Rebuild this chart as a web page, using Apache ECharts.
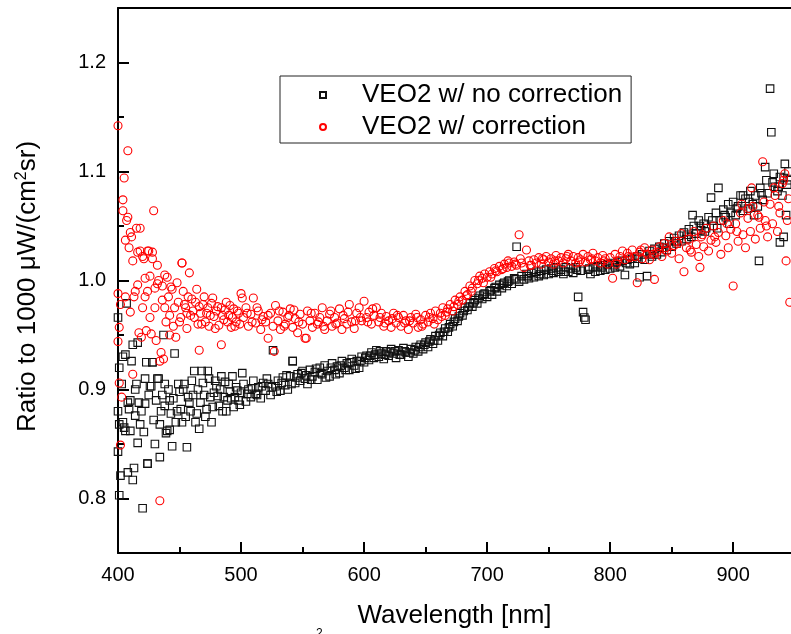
<!DOCTYPE html>
<html>
<head>
<meta charset="utf-8">
<script src="https://cdn.jsdelivr.net/npm/echarts@6/dist/echarts.min.js"></script>
<style>
html,body{margin:0;padding:0;background:#fff;}
#chart{width:791px;height:634px;}
</style>
</head>
<body>
<div id="chart"></div>
<script>
// Shared wavelength grid [nm]
const wavelengths = [
400,402,404,406,408,410,412,414,416,418,
420,422,424,426,428,430,432,434,436,438,
440,442,444,446,448,450,452,454,456,458,
460,462,464,466,468,470,472,474,476,478,
480,482,484,486,488,490,492,494,496,498,
500,502,504,506,508,510,512,514,516,518,
520,522,524,526,528,530,532,534,536,538,
540,542,544,546,548,550,552,554,556,558,
560,562,564,566,568,570,572,574,576,578,
580,582,584,586,588,590,592,594,596,598,
600,602,604,606,608,610,612,614,616,618,
620,622,624,626,628,630,632,634,636,638,
640,642,644,646,648,650,652,654,656,658,
660,662,664,666,668,670,672,674,676,678,
680,682,684,686,688,690,692,694,696,698,
700,702,704,706,708,710,712,714,716,718,
720,722,724,726,728,730,732,734,736,738,
740,742,744,746,748,750,752,754,756,758,
760,762,764,766,768,770,772,774,776,778,
780,782,784,786,788,790,792,794,796,798,
800,802,804,806,808,810,812,814,816,818,
820,822,824,826,828,830,832,834,836,838,
840,842,844,846,848,850,852,854,856,858,
860,862,864,866,868,870,872,874,876,878,
880,882,884,886,888,890,892,894,896,898,
900,902,904,906,908,910,912,914,916,918,
920,922,924,926,928,930,932,934,936,938,
940,942,944,946
];

// VEO2 w/ no correction (ratio), on the wavelength grid
const noCorrection = [
0.966,0.821,0.870,0.932,0.888,0.862,0.941,0.876,0.943,0.868,
0.791,0.910,0.832,0.903,0.925,0.850,0.910,0.838,0.895,0.905,
0.862,0.890,0.848,0.933,0.880,0.898,0.870,0.905,0.847,0.888,
0.908,0.917,0.878,0.864,0.917,0.895,0.882,0.910,0.870,0.897,
0.903,0.885,0.912,0.893,0.880,0.905,0.892,0.884,0.902,0.890,
0.897,0.905,0.889,0.900,0.893,0.908,0.896,0.902,0.892,0.906,
0.899,0.905,0.895,0.936,0.903,0.908,0.899,0.911,0.904,0.900,
0.912,0.926,0.906,0.914,0.908,0.917,0.910,0.905,0.918,0.912,
0.916,0.909,0.920,0.914,0.922,0.917,0.912,0.924,0.918,0.921,
0.915,0.926,0.920,0.924,0.918,0.928,0.922,0.926,0.920,0.930,
0.925,0.931,0.927,0.934,0.929,0.936,0.930,0.933,0.928,0.935,
0.931,0.937,0.933,0.929,0.936,0.932,0.938,0.934,0.930,0.937,
0.933,0.939,0.935,0.941,0.937,0.943,0.939,0.946,0.942,0.949,
0.945,0.952,0.949,0.956,0.953,0.960,0.958,0.965,0.963,0.970,
0.968,0.975,0.973,0.979,0.976,0.982,0.979,0.986,0.983,0.988,
0.985,0.990,0.987,0.993,0.990,0.996,0.993,0.998,0.995,1.000,
0.997,1.002,1.031,0.999,1.004,1.001,1.006,1.002,1.007,1.003,
1.008,1.004,1.009,1.005,1.010,1.006,1.011,1.007,1.012,1.008,
1.010,1.006,1.012,1.008,1.011,1.007,1.012,0.985,1.009,0.971,
0.964,1.010,1.006,1.012,1.008,1.013,1.009,1.014,1.010,1.015,
1.011,1.016,1.012,1.017,1.013,1.018,1.005,1.019,1.015,1.020,
1.016,1.022,1.003,1.024,1.019,1.004,1.027,1.022,1.029,1.024,
1.031,1.026,1.034,1.028,1.036,1.031,1.039,1.034,1.041,1.036,
1.044,1.038,1.047,1.040,1.050,1.043,1.055,1.046,1.052,1.048,
1.058,1.076,1.050,1.062,1.085,1.055,1.065,1.058,1.070,1.062,
1.072,1.060,1.068,1.078,1.064,1.075,1.066,1.082,1.070,1.078,
1.068,1.085,1.074,1.104,1.080,1.176,1.090,1.086,1.082,1.095,
1.078,1.107,1.088,1.092
];

// VEO2 w/ correction (ratio), on the wavelength grid
const withCorrection = [
1.142,0.978,1.064,1.037,1.119,1.044,1.018,0.990,1.026,1.048,
1.022,0.985,1.027,1.004,1.020,0.993,1.014,0.926,0.982,0.975,
1.003,0.968,0.992,0.975,0.998,0.962,1.016,0.978,0.970,1.007,
0.983,0.966,0.992,0.976,0.960,0.985,0.970,0.958,0.979,0.967,
0.972,0.959,0.975,0.964,0.980,0.968,0.957,0.974,0.962,0.970,
0.988,0.966,0.975,0.958,0.969,0.984,0.961,0.972,0.955,0.967,
0.962,0.947,0.970,0.958,0.977,0.963,0.955,0.971,0.960,0.966,
0.974,0.957,0.965,0.952,0.969,0.960,0.947,0.972,0.963,0.957,
0.970,0.960,0.966,0.975,0.955,0.963,0.969,0.958,0.966,0.961,
0.974,0.955,0.965,0.960,0.978,0.962,0.956,0.970,0.975,0.963,
0.981,0.966,0.971,0.960,0.968,0.975,0.962,0.970,0.958,0.967,
0.963,0.957,0.970,0.961,0.966,0.958,0.968,0.963,0.955,0.966,
0.961,0.969,0.957,0.964,0.960,0.968,0.962,0.970,0.965,0.972,
0.964,0.970,0.975,0.968,0.974,0.978,0.972,0.982,0.978,0.985,
0.982,0.990,0.987,0.995,0.993,1.000,0.997,1.004,1.002,1.006,
1.003,1.008,1.006,1.011,1.008,1.013,1.010,1.015,1.012,1.016,
1.013,1.017,1.014,1.042,1.016,1.012,1.028,1.018,1.014,1.019,
1.016,1.021,1.015,1.019,1.022,1.017,1.020,1.015,1.023,1.018,
1.021,1.016,1.020,1.024,1.018,1.022,1.016,1.021,1.019,1.024,
1.017,1.022,1.019,1.025,1.018,1.021,1.016,1.023,1.020,1.015,
1.021,1.002,1.024,1.018,1.022,1.027,1.019,1.025,1.021,1.028,
1.022,0.998,1.026,1.020,1.030,1.024,1.019,1.028,1.001,1.026,
1.031,1.022,1.034,1.027,1.040,1.025,1.032,1.036,1.020,1.043,
1.008,1.030,1.038,1.026,1.045,1.033,1.022,1.040,1.031,1.048,
1.027,1.037,1.050,1.035,1.044,1.024,1.055,1.041,1.030,1.047,
0.995,1.052,1.036,1.062,1.042,1.030,1.057,1.045,1.068,1.038,
1.060,1.048,1.109,1.055,1.040,1.070,1.052,1.078,1.045,1.062,
1.089,1.098,1.055,0.980
];

// Additional measured points off the grid: [wavelength, ratio]
const noCorrectionExtra = [
[400,0.843],[400,0.880],[401,0.803],[401,0.920],[401,0.868],[403,0.905],[404,0.930],[405,0.865],
[406,0.862],[407,0.979],[408,0.824],[409,0.882],[410,0.890],[411,0.926],[412,0.817],[413,0.828],
[414,0.900],[415,0.905],[416,0.851],[417,0.888],[419,0.880],[421,0.861],[422,0.887],[423,0.925],
[424,0.832],[425,0.895],[427,0.903],[428,0.925],[429,0.872],[431,0.890],[433,0.910],[434,0.868],
[435,0.880],[437,0.950],[438,0.885],[439,0.860],[441,0.900],[442,0.863],[443,0.878],[445,0.892],
[447,0.870],[449,0.905],[451,0.882],[453,0.900],[455,0.875],[457,0.893],[459,0.880],[461,0.895],
[463,0.870],[465,0.900],[467,0.888],[469,0.906],[471,0.875],[473,0.917],[475,0.893],[477,0.884],
[479,0.908],[481,0.894],[483,0.900],[485,0.880],[487,0.907],[489,0.890],[491,0.898],[493,0.912],
[495,0.893],[497,0.899],[499,0.886],[501,0.915],[505,0.896],[509,0.901],[513,0.895],[517,0.903],
[521,0.910],[525,0.902],[529,0.898],[533,0.906],[537,0.913],[541,0.905],[542,0.926],[545,0.911],
[549,0.915],[553,0.913],[557,0.909],[561,0.919],[565,0.915],[569,0.911],[573,0.920],[577,0.914],
[581,0.922],[585,0.918],[589,0.925],[593,0.919],[597,0.926],[601,0.929],[605,0.931],[609,0.932],
[613,0.935],[617,0.932],[621,0.934],[625,0.935],[629,0.932],[633,0.935],[637,0.934],[641,0.936],
[645,0.939],[649,0.941],[653,0.944],[657,0.945],[661,0.950],[665,0.953],[669,0.957],[673,0.962],
[677,0.967],[681,0.972],[685,0.976],[689,0.980],[693,0.984],[697,0.987],[703,0.991],[707,0.994],
[713,0.997],[717,0.999],[723,1.001],[733,1.004],[743,1.006],[753,1.009],[763,1.008],[773,1.010],
[779,0.966],[783,1.011],[793,1.012],[803,1.014],[813,1.016],[823,1.020],[833,1.024],[843,1.030],
[853,1.036],[863,1.042],[867,1.060],[873,1.050],[877,1.045],[883,1.055],[887,1.048],[893,1.060],
[897,1.052],[903,1.066],[908,1.078],[913,1.072],[917,1.060],[921,1.018],[923,1.080],[927,1.092],
[931,1.136],[933,1.098],[937,1.086],[938,1.035],[941,1.094],[941,1.040],[943,1.060],[945,1.100]
];

const withCorrectionExtra = [
[400,0.988],[400,0.944],[401,0.957],[401,0.906],[402,0.849],[403,0.893],[404,1.074],[405,1.094],
[406,0.985],[407,1.055],[408,1.058],[409,1.030],[410,0.971],[411,1.040],[412,0.914],[413,0.985],
[415,1.048],[416,0.996],[417,0.952],[418,1.027],[419,0.948],[420,0.975],[421,1.020],[422,1.002],
[423,0.954],[424,0.990],[425,1.027],[426,0.966],[427,0.951],[428,1.026],[429,1.064],[430,0.975],
[431,0.945],[432,0.997],[433,1.000],[434,0.798],[435,0.934],[436,0.995],[437,0.928],[438,1.005],
[439,0.962],[441,0.985],[442,0.950],[443,0.994],[445,0.958],[447,0.948],[449,0.980],[451,0.966],
[452,1.016],[453,0.990],[455,0.975],[456,0.956],[457,0.985],[459,0.968],[461,0.972],[463,0.980],
[465,0.960],[466,0.936],[467,0.970],[469,0.978],[471,0.962],[473,0.975],[475,0.968],[477,0.984],
[479,0.956],[481,0.976],[484,0.941],[485,0.968],[487,0.973],[489,0.962],[491,0.977],[493,0.966],
[495,0.958],[497,0.972],[499,0.960],[501,0.984],[505,0.970],[509,0.962],[513,0.975],[517,0.964],
[522,0.968],[527,0.935],[531,0.972],[535,0.958],[539,0.968],[543,0.973],[547,0.962],[553,0.947],
[557,0.970],[563,0.962],[567,0.958],[573,0.972],[577,0.960],[583,0.968],[587,0.971],[593,0.963],
[597,0.966],[603,0.962],[607,0.974],[613,0.966],[617,0.961],[623,0.965],[627,0.968],[633,0.961],
[637,0.963],[643,0.966],[647,0.958],[653,0.966],[657,0.960],[663,0.967],[667,0.971],[673,0.976],
[677,0.981],[683,0.986],[687,0.990],[693,1.000],[697,0.998],[703,1.003],[707,1.009],[713,1.011],
[717,1.018],[723,1.015],[727,1.020],[735,1.014],[745,1.020],[755,1.018],[765,1.022],[775,1.017],
[785,1.020],[795,1.018],[805,1.015],[815,1.022],[825,1.028],[835,1.024],[845,1.030],[855,1.034],
[865,1.028],[873,1.012],[875,1.042],[885,1.040],[895,1.052],[903,1.045],[907,1.070],[913,1.066],
[915,1.085],[921,1.058],[925,1.072],[927,1.050],[933,1.085],[937,1.068],[941,1.092],[943,1.018],
[945,1.075]
];

const seriesNames = ['VEO2 w/ no correction', 'VEO2 w/ correction'];
const xMajorTicks = [400, 500, 600, 700, 800, 900];
const xMinorTicks = [450, 550, 650, 750, 850];
const yMajorTicks = [0.8, 0.9, 1.0, 1.1, 1.2];
const yMinorTicks = [0.75, 0.85, 0.95, 1.05, 1.15, 1.25];

const FONT = "'Liberation Sans', Arial, Helvetica, sans-serif";

const noCorrData = wavelengths.map((w, i) => [w, noCorrection[i]]).concat(noCorrectionExtra);
const corrData = wavelengths.map((w, i) => [w, withCorrection[i]]).concat(withCorrectionExtra);

const chart = echarts.init(document.getElementById('chart'), null, {renderer: 'canvas'});

const gridRect = {left: 118, top: 8, right: 0, bottom: 81, show: false};
const xRange = {type: 'value', min: 400, max: 947, splitLine: {show: false}};
const yRange = {type: 'value', min: 0.75, max: 1.25, splitLine: {show: false}};
const tickStyle = {color: '#000', width: 2};

chart.setOption({
  animation: false,
  backgroundColor: '#ffffff',
  grid: [Object.assign({}, gridRect), Object.assign({}, gridRect)],
  legend: {
    show: true,
    data: seriesNames,
    orient: 'vertical',
    left: 280, top: 76,
    padding: [4, 9, 1, 39],
    itemWidth: 6, itemHeight: 6,
    itemGap: 2,
    backgroundColor: '#fff',
    borderColor: '#222', borderWidth: 1, borderRadius: 0,
    textStyle: {fontFamily: FONT, fontSize: 26, color: '#000', lineHeight: 30, padding: [0, 0, 0, 31]},
    selectedMode: false
  },
  xAxis: [
    Object.assign({}, xRange, {
      gridIndex: 0, position: 'bottom',
      name: 'Wavelength [nm]',
      nameLocation: 'middle', nameGap: 50,
      nameTextStyle: {fontFamily: FONT, fontSize: 26, color: '#000'},
      axisLine: {show: true, lineStyle: {color: '#000', width: 2}},
      axisTick: {show: true, inside: true, length: 11, customValues: xMajorTicks, lineStyle: tickStyle},
      axisLabel: {show: true, customValues: xMajorTicks, margin: 12, fontFamily: FONT, fontSize: 20, color: '#000',
        formatter: v => String(Math.round(v))}
    }),
    Object.assign({}, xRange, {
      gridIndex: 0, position: 'top',
      axisLine: {show: true, lineStyle: {color: '#000', width: 2}},
      axisTick: {show: false},
      axisLabel: {show: false}
    }),
    Object.assign({}, xRange, {
      gridIndex: 1, position: 'bottom',
      axisLine: {show: false},
      axisTick: {show: true, inside: true, length: 6, customValues: xMinorTicks, lineStyle: tickStyle},
      axisLabel: {show: false}
    })
  ],
  yAxis: [
    Object.assign({}, yRange, {
      gridIndex: 0, position: 'left',
      name: 'Ratio to 1000 μW/(cm{sup|2}sr)',
      nameLocation: 'middle', nameGap: 76, nameRotate: 90,
      nameTextStyle: {fontFamily: FONT, fontSize: 26, color: '#000', padding: [0, 12, 0, 0],
        rich: {sup: {fontFamily: FONT, fontSize: 16, color: '#000', verticalAlign: 'top', padding: [0, 0, 12, 0]}}},
      axisLine: {show: true, lineStyle: {color: '#000', width: 2}},
      axisTick: {show: true, inside: true, length: 11, customValues: yMajorTicks, lineStyle: tickStyle},
      axisLabel: {show: true, customValues: yMajorTicks, margin: 12, fontFamily: FONT, fontSize: 20, color: '#000',
        formatter: v => Number(v).toFixed(1)}
    }),
    Object.assign({}, yRange, {
      gridIndex: 1, position: 'left',
      axisLine: {show: false},
      axisTick: {show: true, inside: true, length: 6, customValues: yMinorTicks, lineStyle: tickStyle},
      axisLabel: {show: false}
    })
  ],
  series: [
    {
      name: seriesNames[0], type: 'scatter', xAxisIndex: 0, yAxisIndex: 0,
      symbol: 'rect', symbolSize: 7.5, clip: true,
      itemStyle: {color: 'rgba(0,0,0,0)', borderColor: '#111', borderWidth: 1.1, opacity: 1},
      emphasis: {disabled: true},
      data: noCorrData
    },
    {
      name: seriesNames[1], type: 'scatter', xAxisIndex: 0, yAxisIndex: 0,
      symbol: 'circle', symbolSize: 8, clip: true,
      itemStyle: {color: 'rgba(0,0,0,0)', borderColor: '#ff0000', borderWidth: 1.1, opacity: 1},
      emphasis: {disabled: true},
      data: corrData
    }
  ],
  graphic: [
    {type: 'text', left: 316, top: 628, silent: true,
     style: {text: '2', fontFamily: FONT, fontSize: 12, fill: '#000'}}
  ]
});
</script>
</body>
</html>
